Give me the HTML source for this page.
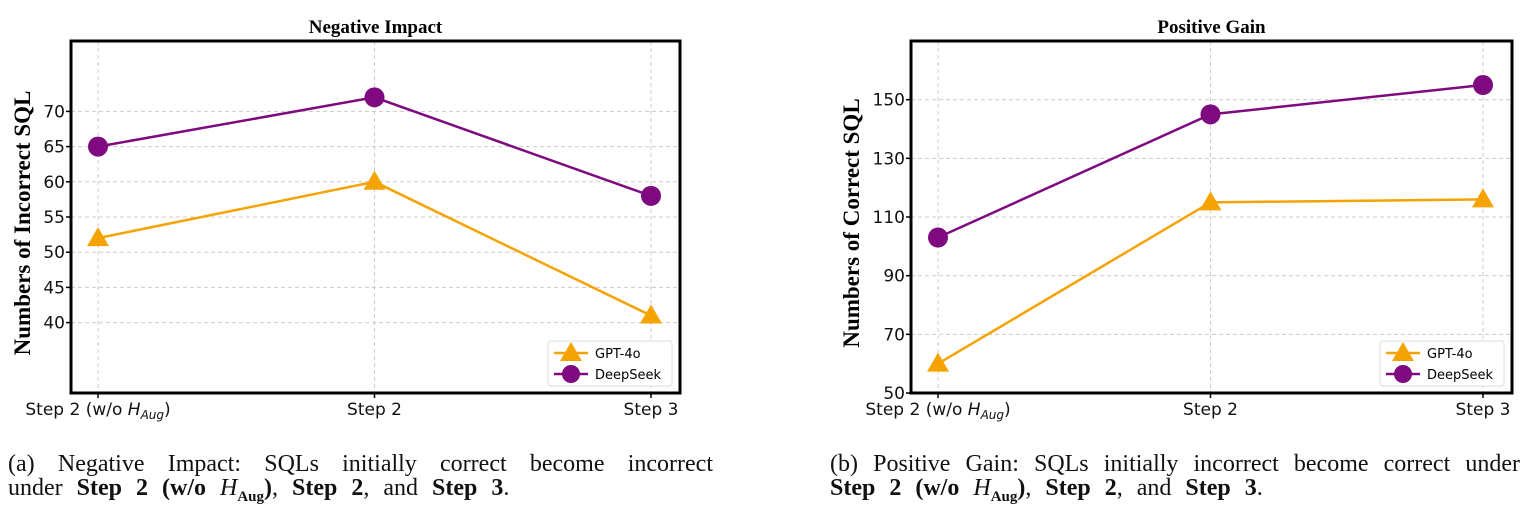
<!DOCTYPE html>
<html><head><meta charset="utf-8"><style>
body{margin:0;background:#fff;width:1525px;height:513px;overflow:hidden}
.cap{position:absolute;font-family:"Liberation Serif",serif;font-size:24px;line-height:24px;color:#111;word-spacing:8px}
.cap .l1{display:block;text-align:justify;text-align-last:justify;white-space:nowrap;word-spacing:0}
.cap .l2{display:block;white-space:nowrap}
</style></head><body>
<svg id="svg" width="1525" height="513" style="position:absolute;left:0;top:0" xmlns="http://www.w3.org/2000/svg"></svg>
<div class="cap" style="left:8px;top:452px;width:705px"><span class="l1">(a) Negative Impact: SQLs initially correct become incorrect</span><span class="l2">under <b>Step 2 (w/o <i style="font-weight:normal">H</i><sub style="font-size:15px">Aug</sub>)</b>, <b>Step 2</b>, and <b>Step 3</b>.</span></div>
<div class="cap" style="left:830px;top:452px;width:690px"><span class="l1">(b) Positive Gain: SQLs initially incorrect become correct under</span><span class="l2"><b>Step 2 (w/o <i style="font-weight:normal">H</i><sub style="font-size:15px">Aug</sub>)</b>, <b>Step 2</b>, and <b>Step 3</b>.</span></div>
<script>
const categories=["Step 2 (w/o H_Aug)","Step 2","Step 3"];
const negGPT=[52,60,41];
const negDeep=[65,72,58];
const posGPT=[60,115,116];
const posDeep=[103,145,155];
const negTicks=[40,45,50,55,60,65,70];
const posTicks=[50,70,90,110,130,150];
const NS="http://www.w3.org/2000/svg";
const svg=document.getElementById('svg');
function mk(t,a,p){const e=document.createElementNS(NS,t);for(const k in a)e.setAttribute(k,a[k]);(p||svg).appendChild(e);return e;}
function chart(o){
  const g=mk('g',{});
  
  
  const L=o.left,R=o.right,T=41,B=393;
  const y=v=>B-(v-o.ymin)/(o.ymax-o.ymin)*(B-T);
  const x=i=>o.x0+i*o.dx;
  o.ticks.forEach(v=>{mk('line',{x1:L,x2:R,y1:y(v),y2:y(v),stroke:'#ccc','stroke-dasharray':'4,3','stroke-width':1},g);
    const t=mk('text',{x:L-6,y:y(v)+6,'text-anchor':'end','font-family':'DejaVu Sans,sans-serif','font-size':17,fill:'#111'},g);t.textContent=v;
    
    mk('line',{x1:L-5,x2:L,y1:y(v),y2:y(v),stroke:'#000','stroke-width':1.5},g);});
  categories.forEach((c,i)=>{mk('line',{x1:x(i),x2:x(i),y1:T,y2:B,stroke:'#ccc','stroke-dasharray':'4,3','stroke-width':1},g);
    mk('line',{x1:x(i),x2:x(i),y1:B,y2:B+5,stroke:'#000','stroke-width':1.5},g);
    const t=mk('text',{x:x(i),y:415,'text-anchor':'middle','font-family':'DejaVu Sans,sans-serif','font-size':17,fill:'#111'},g);
    
    if(c.indexOf('H_Aug')>=0){t.innerHTML='Step 2 (w/o <tspan font-style="italic">H</tspan><tspan font-style="italic" font-size="12" dy="4">Aug</tspan><tspan dy="-4">)</tspan>';}
    else t.textContent=c;});
  [[o.gpt,'#f5a300','tri','series-gpt-4o'],[o.deep,'#7f0a7f','circ','series-deepseek']].forEach(([d,col,m,nm])=>{
    const s=mk('g',{},g);
    mk('polyline',{points:d.map((v,i)=>x(i)+','+y(v)).join(' '),fill:'none',stroke:col,'stroke-width':2.5},s);
    d.forEach((v,i)=>{let e;if(m=='tri'){const cx=x(i),cy=y(v);e=mk('polygon',{points:`${cx},${cy-11} ${cx-11},${cy+8} ${cx+11},${cy+8}`,fill:col},s);}
      else e=mk('circle',{cx:x(i),cy:y(v),r:10,fill:col},s);
      });
  });
  mk('rect',{x:L,y:T,width:R-L,height:B-T,fill:'none',stroke:'#000','stroke-width':3},g);
  const tt=mk('text',{x:(L+R)/2,y:33,'text-anchor':'middle','font-family':'Liberation Serif,serif','font-weight':'bold','font-size':19},g);tt.textContent=o.title;
  
  const yl=mk('text',{x:0,y:0,transform:`translate(${o.ylx},${(T+B)/2+6}) rotate(-90)`,'text-anchor':'middle','font-family':'Liberation Serif,serif','font-weight':'bold','font-size':23},g);yl.textContent=o.ylabel;
  
  const lg=mk('g',{},g);
  const lx=o.legx;
  mk('rect',{x:lx,y:341,width:124,height:45,rx:3,fill:'#fff',stroke:'#ddd'},lg);
  mk('line',{x1:lx+6,x2:lx+40,y1:353,y2:353,stroke:'#f5a300','stroke-width':2.5},lg);
  mk('polygon',{points:`${lx+23},${342} ${lx+12},${361} ${lx+34},${361}`,fill:'#f5a300'},lg);
  mk('line',{x1:lx+6,x2:lx+40,y1:374,y2:374,stroke:'#7f0a7f','stroke-width':2.5},lg);
  mk('circle',{cx:lx+23,cy:374,r:9,fill:'#7f0a7f'},lg);
  [['GPT-4o',358],['DeepSeek',379]].forEach(([s,yy])=>{const t=mk('text',{x:lx+47,y:yy,'font-family':'DejaVu Sans,sans-serif','font-size':13},lg);t.textContent=s;
    });
}
chart({name:'negative-impact-chart',left:71,right:680,x0:98,dx:276.5,ymin:30,ymax:80,ticks:negTicks,gpt:negGPT,deep:negDeep,title:'Negative Impact',ylabel:'Numbers of Incorrect SQL',ylx:30,legx:548});
chart({name:'positive-gain-chart',left:911,right:1512,x0:938,dx:272.5,ymin:50,ymax:170,ticks:posTicks,gpt:posGPT,deep:posDeep,title:'Positive Gain',ylabel:'Numbers of Correct SQL',ylx:859,legx:1380});
</script>
</body></html>
